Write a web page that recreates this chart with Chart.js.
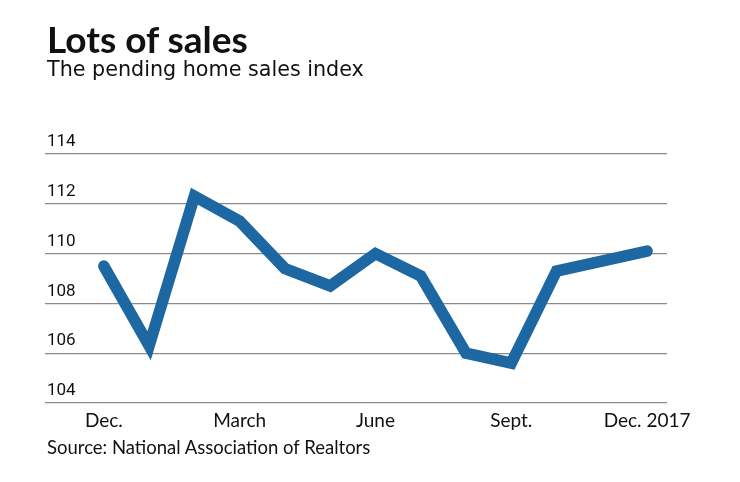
<!DOCTYPE html>
<html>
<head>
<meta charset="utf-8">
<script src="https://cdn.jsdelivr.net/npm/chart.js@4"></script>
<style>
  html, body { margin: 0; padding: 0; background: #fff; }
  #wrap { position: relative; width: 740px; height: 482px; overflow: hidden; }
  canvas { position: absolute; left: 0; top: 0; }
  .txt { position: absolute; left: 47px; color: #111; font-family: Lato, "Open Sans", sans-serif; line-height: 1; white-space: nowrap; }
  #title { top: 20px; font-size: 37px; font-weight: 700; }
  #subtitle { top: 58.5px; font-size: 20.7px; font-weight: 400; font-family: "DejaVu Sans", Lato, sans-serif; }
  #source { top: 438px; font-size: 18.5px; font-weight: 400; }
</style>
</head>
<body>
<div id="wrap">
  <canvas id="chart" width="740" height="482"></canvas>
  <div class="txt" id="title">Lots of sales</div>
  <div class="txt" id="subtitle">The pending home sales index</div>
  <div class="txt" id="source">Source: National Association of Realtors</div>
</div>
<script>
// Data
const categories = ['Dec.', 'Jan.', 'Feb.', 'March', 'April', 'May', 'June', 'July', 'Aug.', 'Sept.', 'Oct.', 'Nov.', 'Dec. 2017'];
const indexValues = [109.5, 106.3, 112.3, 111.3, 109.4, 108.7, 110.0, 109.1, 106.0, 105.6, 109.3, 109.7, 110.1];
const xTickLabels = ['Dec.', 'March', 'June', 'Sept.', 'Dec. 2017'];
const yTickValues = [104, 106, 108, 110, 112, 114];

const points = categories.map((c, i) => ({ x: i, y: indexValues[i] }));
const xTickPositions = xTickLabels.map(l => categories.indexOf(l));

const ctx = document.getElementById('chart').getContext('2d');
new Chart(ctx, {
  type: 'line',
  data: {
    datasets: [{
      label: 'Pending home sales index',
      data: points,
      borderColor: '#1d67a3',
      borderWidth: 11.5,
      borderCapStyle: 'round',
      borderJoinStyle: 'miter',
      pointRadius: 0,
      pointHoverRadius: 0,
      tension: 0,
      fill: false
    }]
  },
  options: {
    responsive: false,
    animation: false,
    devicePixelRatio: 1,
    layout: { padding: { left: 45, right: 73, top: 154, bottom: 0 } },
    plugins: {
      legend: { display: false },
      tooltip: { enabled: false },
      title: { display: false }
    },
    scales: {
      x: {
        type: 'linear',
        min: -1.3,
        max: 12.44,
        grid: { display: false, drawTicks: false },
        border: { display: false },
        afterBuildTicks: (scale) => { scale.ticks = xTickPositions.map(v => ({ value: v })); },
        afterFit: (scale) => { scale.height = 79; scale.paddingLeft = 0; scale.paddingRight = 0; },
        ticks: {
          autoSkip: false,
          maxRotation: 0,
          padding: 6,
          color: '#111',
          font: { family: 'Lato, "Open Sans", sans-serif', size: 19 },
          callback: (v) => categories[v]
        }
      },
      y: {
        min: 104,
        max: 114,
        afterBuildTicks: (scale) => { scale.ticks = yTickValues.map(v => ({ value: v })); },
        afterFit: (scale) => { scale.width = 0; scale.paddingTop = 0; scale.paddingBottom = 0; },
        grid: { color: '#8c8c8c', lineWidth: 1.2, drawTicks: false },
        border: { display: false },
        ticks: {
          mirror: true,
          padding: 2,
          labelOffset: -12,
          color: '#111',
          font: { family: 'Roboto, "Open Sans", sans-serif', size: 17 }
        }
      }
    }
  }
});
</script>
</body>
</html>
